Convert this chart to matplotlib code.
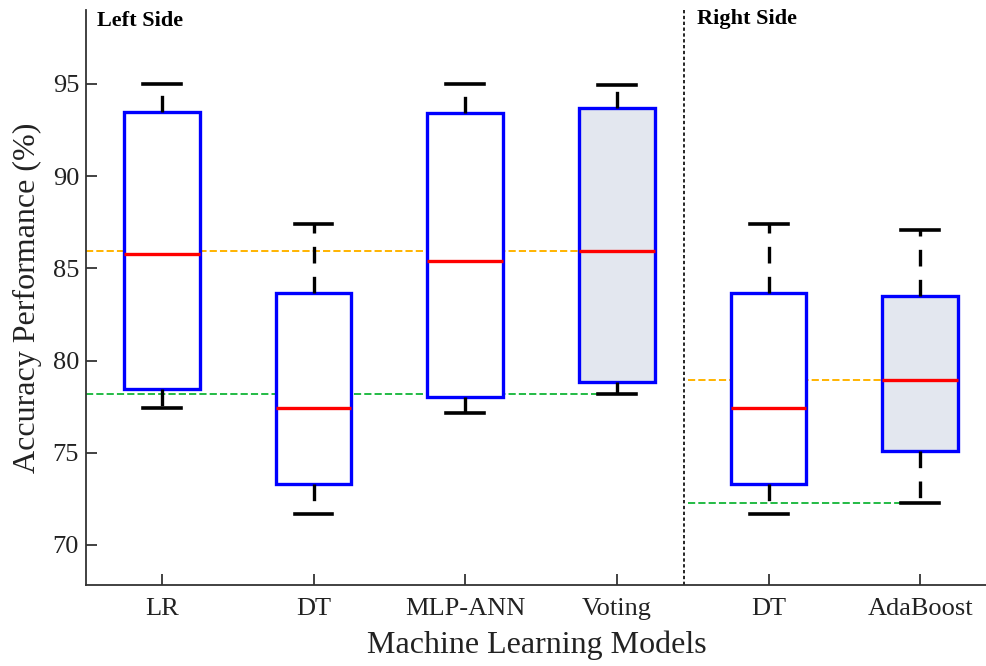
import matplotlib
matplotlib.use("Agg")
import matplotlib.pyplot as plt

# model names and the box statistics (accuracy %)
models = ["LR", "DT", "MLP-ANN", "Voting", "DT", "AdaBoost"]
whis_lo = [77.43, 71.68, 77.16, 78.19, 71.68, 72.28]
q1 = [78.46, 73.31, 78.03, 78.84, 73.31, 75.10]
med = [85.78, 77.43, 85.40, 85.94, 77.43, 78.95]
q3 = [93.48, 83.67, 93.40, 93.70, 83.67, 83.50]
whis_hi = [95.00, 87.41, 95.00, 94.95, 87.41, 87.08]
shaded = [False, False, False, True, False, True]

# reference levels (best model median / lower whisker) per side
left_ref = [85.94, 78.19]
right_ref = [78.95, 72.28]

plt.rcParams['font.family'] = ['Liberation Serif', 'DejaVu Serif']

fig = plt.figure(figsize=(9.87, 6.66), dpi=100)
ax = fig.add_axes([0.0871, 0.1216, 0.9129, 0.8634])

stats = []
for i in range(len(models)):
    stats.append({'label': models[i], 'whislo': whis_lo[i], 'q1': q1[i],
                  'med': med[i], 'q3': q3[i], 'whishi': whis_hi[i]})

pos = list(range(1, len(models) + 1))
bp = ax.bxp(stats, positions=pos, widths=0.5, showfliers=False, patch_artist=True,
            boxprops=dict(edgecolor='#0000ff', linewidth=2.4),
            medianprops=dict(color='#ff0000', linewidth=2.4),
            whiskerprops=dict(color='black', linewidth=2.4, linestyle=(0, (5, 4))),
            capprops=dict(color='black', linewidth=2.6), capwidths=0.25)
for patch, sh in zip(bp['boxes'], shaded):
    patch.set_facecolor('#e3e7ef' if sh else 'white')

# dashed reference lines
ax.plot([0.5, 3.75], [left_ref[0]] * 2, color='#ffb300', ls='--', lw=1.4, zorder=1)
ax.plot([0.5, 3.875], [left_ref[1]] * 2, color='#22bb44', ls='--', lw=1.4, zorder=1)
ax.plot([4.47, 5.75], [right_ref[0]] * 2, color='#ffb300', ls='--', lw=1.4, zorder=1)
ax.plot([4.47, 5.875], [right_ref[1]] * 2, color='#22bb44', ls='--', lw=1.4, zorder=1)

# separator between the two sides
ax.axvline(4.445, color='black', ls=(0, (2, 1.5)), lw=1.2)

ax.text(0.57, 98.4, "Left Side", fontsize=16, fontweight='bold', va='center')
ax.text(4.53, 98.5, "Right Side", fontsize=16, fontweight='bold', va='center')

ax.set_xlim(0.5, 6.44)
ax.set_ylim(67.83, 99.0)
ax.set_yticks([70, 75, 80, 85, 90, 95])
ax.set_xticks(pos)
ax.set_xticklabels(models)
ax.tick_params(direction='in', length=8, width=1.2, labelsize=19, colors='#222222', pad=5)
ax.tick_params(axis='x', pad=9)
for s in ['top', 'right']:
    ax.spines[s].set_visible(False)
for s in ['left', 'bottom']:
    ax.spines[s].set_color('#333333')
    ax.spines[s].set_linewidth(1.3)

ax.set_ylabel("Accuracy Performance (%)", fontsize=23, color='#222222', labelpad=8)
ax.set_xlabel("Machine Learning Models", fontsize=23, color='#222222', labelpad=8)

fig.savefig("out.png", dpi=100)
